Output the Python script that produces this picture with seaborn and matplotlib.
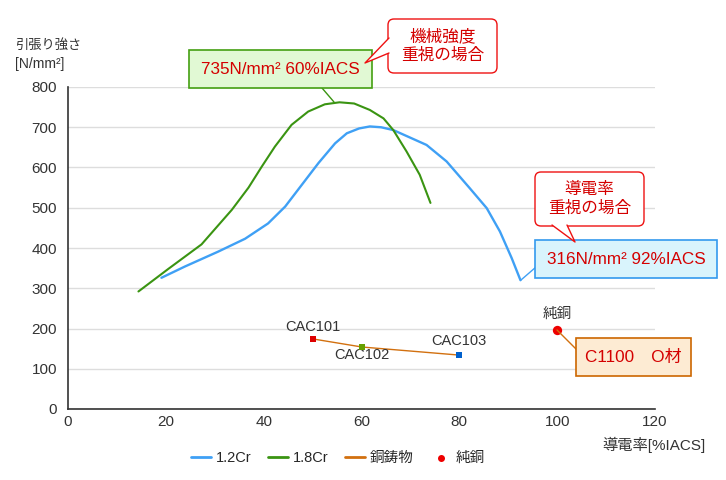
import pandas as pd
import matplotlib.pyplot as plt
import matplotlib.transforms as mtransforms
from matplotlib.patches import FancyBboxPatch, Polygon, Rectangle
from matplotlib.lines import Line2D
import seaborn as sns

# Data
cr12_x = [19.1, 23.9, 30.7, 36.2, 40.9, 44.4, 47.8, 51.2, 54.6, 57.0, 59.5, 61.7, 64.0, 66.5, 73.3, 77.4, 82.1, 85.6, 88.3, 90.7, 92.5]
cr12_y = [326, 354, 391, 423, 461, 503, 557, 611, 660, 685, 697, 702, 700, 693, 656, 615, 549, 499, 441, 375, 320]

cr18_x = [14.4, 20.5, 27.3, 33.5, 36.9, 39.6, 42.3, 45.7, 49.1, 52.5, 55.5, 58.5, 61.7, 64.5, 66.5, 69.2, 71.9, 74.1]
cr18_y = [292, 348, 409, 495, 550, 602, 652, 706, 739, 757, 762, 759, 743, 722, 693, 640, 582, 512]

cast_names = ['CAC101', 'CAC102', 'CAC103']
cast_x = [50.1, 60.1, 79.9]
cast_y = [174, 154, 134]

pure_x = [100]
pure_y = [196]

x_ticks = [0, 20, 40, 60, 80, 100, 120]
y_ticks = [0, 100, 200, 300, 400, 500, 600, 700, 800]

sns.set_style('white')
plt.rcParams['font.family'] = ['Liberation Sans', 'Noto Sans CJK JP']

fig = plt.figure(figsize=(7.26, 4.8), dpi=100)
ax = fig.add_axes([68 / 726, 1 - 409 / 480, 587 / 726, 322 / 480])

# pixel coordinates of the picture (y down) for the callout boxes
px = mtransforms.Affine2D().scale(1 / 726, -1 / 480).translate(0, 1) + fig.transFigure

df12 = pd.DataFrame({'x': cr12_x, 'y': cr12_y})
df18 = pd.DataFrame({'x': cr18_x, 'y': cr18_y})
cast = pd.DataFrame({'x': cast_x, 'y': cast_y, 'name': cast_names})

sns.lineplot(data=df12, x='x', y='y', sort=False, color='#3fa0f5', lw=1.7, ax=ax, label='1.2Cr', zorder=3)
sns.lineplot(data=df18, x='x', y='y', sort=False, color='#3a9412', lw=1.5, ax=ax, label='1.8Cr', zorder=3)
sns.lineplot(data=cast, x='x', y='y', sort=False, color='#d2700f', lw=1.0, ax=ax, label='銅鋳物', zorder=3)
sns.scatterplot(data=cast, x='x', y='y', hue='name', marker='s', s=22, linewidth=0,
                palette=['#dd0000', '#66a000', '#0060cc'], ax=ax, legend=False, zorder=4)
sns.scatterplot(x=pure_x, y=pure_y, color='#ee0000', s=45, linewidth=0, ax=ax, label='純銅', zorder=4)

ax.set_xlim(0, 120)
ax.set_ylim(0, 800)
ax.set_xticks(x_ticks)
ax.set_yticks(y_ticks)
ax.set_xlabel('')
ax.set_ylabel('')
ax.yaxis.grid(True, color='#dddddd', lw=1)
ax.xaxis.grid(False)
for s in ['top', 'right']:
    ax.spines[s].set_visible(False)
for s in ['left', 'bottom']:
    ax.spines[s].set_color('#333333')
    ax.spines[s].set_linewidth(1.2)
ax.tick_params(axis='y', length=0, pad=8, labelsize=11, labelcolor='#333333')
ax.tick_params(axis='x', direction='in', length=5, color='#dddddd', pad=4, labelsize=11, labelcolor='#333333')

# point labels
ax.text(cast_x[0], cast_y[0] + 30, cast_names[0], ha='center', va='center', fontsize=10.5, color='#333333')
ax.text(cast_x[1], cast_y[1] - 20, cast_names[1], ha='center', va='center', fontsize=10.5, color='#333333')
ax.text(cast_x[2], cast_y[2] + 35, cast_names[2], ha='center', va='center', fontsize=10.5, color='#333333')
ax.text(pure_x[0], pure_y[0] + 40, '純銅', ha='center', va='center', fontsize=10.5, color='#333333')

# axis titles
fig.text(15 / 726, 1 - 45 / 480, '引張り強さ', ha='left', va='center', fontsize=9.5, color='#333333')
fig.text(15 / 726, 1 - 64 / 480, '[N/mm²]', ha='left', va='center', fontsize=10, color='#333333')
fig.text(654 / 726, 1 - 445 / 480, '導電率[%IACS]', ha='center', va='center', fontsize=11, color='#333333')

red = '#d40000'

def value_box(x0, y0, x1, y1, fc, ec, text):
    fig.patches.append(Rectangle((x0, y0), x1 - x0, y1 - y0, transform=px, fc=fc, ec=ec, lw=1.2, zorder=5))
    fig.text((x0 + x1) / 2, (y0 + y1) / 2, text, transform=px, ha='center', va='center',
             fontsize=12.3, color=red, zorder=6)

def link(points, color, z=4):
    xs, ys = zip(*points)
    fig.lines.append(Line2D(xs, ys, transform=px, color=color, lw=1.0, zorder=z))

def callout(x0, y0, x1, y1, tail, text):
    box = FancyBboxPatch((x0, y0), x1 - x0, y1 - y0, boxstyle='round,pad=0,rounding_size=6',
                         transform=px, fc='white', ec='#ee1111', lw=1.0, zorder=5)
    fig.patches.append(box)
    fig.patches.append(Polygon(tail, closed=True, transform=px, fc='white', ec='none', zorder=6))
    link(tail, '#ee1111', z=7)
    fig.text((x0 + x1) / 2, (y0 + y1) / 2, text, transform=px, ha='center', va='center',
             fontsize=12, color=red, linespacing=1.3, zorder=8)

# strength box
link([(322, 88), (334, 102)], '#3a9412')
value_box(189, 50, 372, 88, '#e1f9d4', '#44a012', '735N/mm² 60%IACS')
callout(388, 19, 497, 73, [(389, 38), (365, 63), (389, 53)], '機械強度\n重視の場合')

# conductivity box
link([(521, 280), (536, 267)], '#3fa0f5')
value_box(535, 240, 717, 278, '#d9f4fc', '#3399ee', '316N/mm² 92%IACS')
callout(535, 172, 644, 226, [(552, 225), (575, 242), (567, 225)], '導電率\n重視の場合')

# pure copper box
link([(557, 330), (577, 350)], '#d2700f')
value_box(576, 338, 691, 376, '#fdebd3', '#cc6600', 'C1100　O材')

handles, labels = ax.get_legend_handles_labels()
leg = ax.legend(handles, labels, ncol=4, loc='center', bbox_to_anchor=(0.465, 1 - 458 / 480),
                bbox_transform=fig.transFigure, frameon=False, fontsize=10.5, handlelength=1.4,
                handletextpad=0.3, columnspacing=1.15, markerscale=0.75)
for line in leg.get_lines():
    line.set_linewidth(2)

plt.savefig('out.png', dpi=100)
